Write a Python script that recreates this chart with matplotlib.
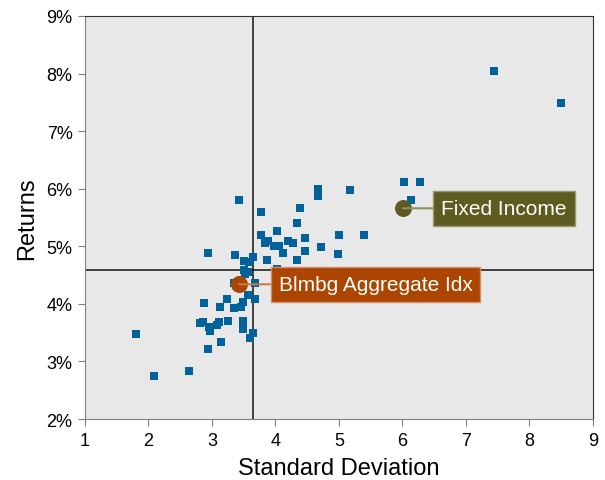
import numpy as np
import matplotlib.pyplot as plt
from matplotlib.ticker import FuncFormatter

plt.rcParams['font.family'] = ['Liberation Sans', 'DejaVu Sans']

# fund risk / return (std dev, return %)
std_dev = [3.43, 3.78, 3.78, 4.02, 3.89, 3.84, 3.97, 4.06, 2.93, 3.37,
           3.65, 3.51, 3.59, 3.87, 3.51, 3.57, 3.52, 3.34, 3.67, 3.56,
           3.67, 3.24, 3.49, 2.88, 3.13, 3.35, 3.46, 3.26, 3.49, 3.11,
           3.08, 2.86, 2.81, 2.96, 2.97, 3.49, 3.65, 3.60, 3.15, 2.93,
           1.81, 2.64, 2.08, 4.02,
           6.03, 6.28, 6.14, 4.67, 4.67, 5.18, 4.39, 4.34, 5.00, 5.40,
           4.47, 4.19, 4.28, 4.71, 4.47, 4.12, 4.99, 4.34, 7.45, 8.49]
returns = [5.80, 5.60, 5.19, 5.27, 5.10, 5.05, 5.00, 5.00, 4.89, 4.84,
           4.82, 4.74, 4.72, 4.77, 4.58, 4.56, 4.51, 4.37, 4.37, 4.16,
           4.09, 4.08, 4.04, 4.02, 3.95, 3.92, 3.94, 3.71, 3.71, 3.69,
           3.64, 3.68, 3.66, 3.59, 3.52, 3.57, 3.50, 3.40, 3.33, 3.21,
           3.47, 2.84, 2.74, 4.60,
           6.11, 6.11, 5.80, 6.00, 5.88, 5.97, 5.67, 5.41, 5.20, 5.19,
           5.14, 5.10, 5.05, 4.98, 4.91, 4.88, 4.86, 4.77, 8.05, 7.48]

# benchmarks
agg_name = 'Blmbg Aggregate Idx'
agg_pt = (3.43, 4.34)
fi_name = 'Fixed Income'
fi_pt = (6.01, 5.66)

# average lines
avg_std = 3.65
avg_ret = 4.585

fig = plt.figure(figsize=(6.05, 4.81), dpi=100)
ax = fig.add_axes([0.1405, 0.1268, 0.8395, 0.8379])
ax.set_facecolor('#e8e8e8')

ax.axvline(avg_std, color='#111111', lw=1.1, zorder=1)
ax.axhline(avg_ret, color='#111111', lw=1.1, zorder=1)

ax.scatter(std_dev, returns, marker='s', s=26, color='#00629b', linewidths=0, zorder=2)

ax.scatter([agg_pt[0]], [agg_pt[1]], s=150, color='#ab4500', linewidths=0, zorder=4)
ax.scatter([fi_pt[0]], [fi_pt[1]], s=150, color='#5e5b20', linewidths=0, zorder=4)

ax.annotate(agg_name, xy=agg_pt, xytext=(4.05, 4.34), ha='left', va='center',
            fontsize=15, color='white', zorder=5,
            bbox=dict(boxstyle='square,pad=0.38', fc='#ab4500', ec='#d09070', lw=1),
            arrowprops=dict(arrowstyle='-', color='#c87a48', lw=1.5, shrinkA=0, shrinkB=0))
ax.annotate(fi_name, xy=fi_pt, xytext=(6.61, 5.66), ha='left', va='center',
            fontsize=15, color='white', zorder=5,
            bbox=dict(boxstyle='square,pad=0.38', fc='#5e5b20', ec='#9a9870', lw=1),
            arrowprops=dict(arrowstyle='-', color='#8f8d62', lw=1.5, shrinkA=0, shrinkB=0))

ax.set_xlim(1, 9)
ax.set_ylim(2, 9)
ax.set_xticks(range(1, 10))
ax.set_yticks(range(2, 10))
ax.yaxis.set_major_formatter(FuncFormatter(lambda v, p: '%d%%' % v))
ax.tick_params(direction='out', length=5, color='#808080', labelsize=13, pad=4)

for s in ['left', 'bottom']:
    ax.spines[s].set_color('#808080')
for s in ['top', 'right']:
    ax.spines[s].set_color('#333333')

ax.set_xlabel('Standard Deviation', fontsize=17, labelpad=6)
ax.set_ylabel('Returns', fontsize=17, labelpad=6)

fig.savefig('out.png', dpi=100)
